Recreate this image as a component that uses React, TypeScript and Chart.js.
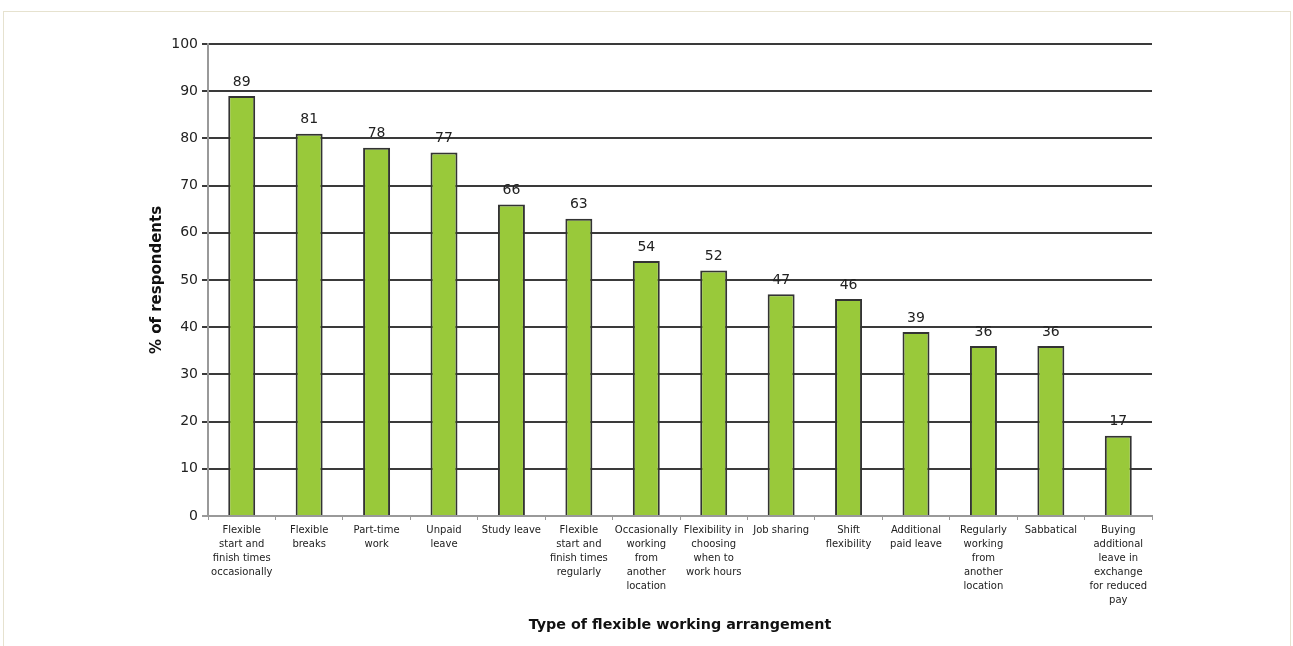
import React, { useEffect, useRef } from "react";
import { Chart, registerables } from "chart.js";

Chart.register(...registerables);

const categories: string[][] = [
  ["Flexible", "start and", "finish times", "occasionally"],
  ["Flexible", "breaks"],
  ["Part-time", "work"],
  ["Unpaid", "leave"],
  ["Study leave"],
  ["Flexible", "start and", "finish times", "regularly"],
  ["Occasionally", "working", "from", "another", "location"],
  ["Flexibility in", "choosing", "when to", "work hours"],
  ["Job sharing"],
  ["Shift", "flexibility"],
  ["Additional", "paid leave"],
  ["Regularly", "working", "from", "another", "location"],
  ["Sabbatical"],
  ["Buying", "additional", "leave in", "exchange", "for reduced", "pay"],
];

const values: number[] = [89, 81, 78, 77, 66, 63, 54, 52, 47, 46, 39, 36, 36, 17];

const yTicks: number[] = [0, 10, 20, 30, 40, 50, 60, 70, 80, 90, 100];

const FONT = "'DejaVu Sans', Verdana, sans-serif";

const valueLabels = {
  id: "valueLabels",
  afterDatasetsDraw(chart: any) {
    const ctx = chart.ctx;
    const meta = chart.getDatasetMeta(0);
    ctx.save();
    ctx.font = `14px ${FONT}`;
    ctx.fillStyle = "#222";
    ctx.textAlign = "center";
    ctx.textBaseline = "middle";
    meta.data.forEach((bar: any, i: number) => {
      ctx.fillText(String(values[i]), bar.x, bar.y - 14);
    });
    ctx.restore();
  },
};

export default function App() {
  const ref = useRef<HTMLCanvasElement>(null);
  useEffect(() => {
    document.body.style.overflow = "hidden";
    const chart = new Chart(ref.current!, {
      type: "bar",
      data: {
        labels: categories,
        datasets: [
          {
            data: values,
            backgroundColor: "#99C93A",
            borderColor: "#333",
            borderWidth: 2,
            categoryPercentage: 1,
            barPercentage: 0.4,
          },
        ],
      },
      options: {
        responsive: false,
        animation: false,
        devicePixelRatio: 1,
        layout: { padding: { left: 0, right: 141, top: 44, bottom: 0 } },
        plugins: {
          legend: { display: false },
          tooltip: { enabled: false },
        },
        scales: {
          x: {
            offset: true,
            afterFit: (s: any) => {
              s.height = 130;
            },
            grid: {
              offset: true,
              drawOnChartArea: false,
              drawTicks: true,
              tickLength: 4,
              color: "#999",
            },
            border: { color: "#999", width: 2 },
            ticks: {
              autoSkip: false,
              maxRotation: 0,
              minRotation: 0,
              padding: 3,
              color: "#222",
              font: { family: FONT, size: 10, lineHeight: 1.4 },
            },
            title: {
              display: true,
              text: "Type of flexible working arrangement",
              color: "#111",
              font: { family: FONT, size: 14.3, weight: "bold" },
              padding: { top: 0, bottom: 12 },
            },
          },
          y: {
            min: 0,
            max: 100,
            afterFit: (s: any) => {
              s.width = 208;
            },
            afterBuildTicks: (s: any) => {
              s.ticks = yTicks.map((v) => ({ value: v }));
            },
            grid: {
              color: (c: any) => (c.tick && c.tick.value === 0 ? "#999" : "#3a3a3a"),
              lineWidth: 2,
              tickLength: 6,
            },
            border: { color: "#999", width: 2 },
            ticks: {
              padding: 4,
              color: "#222",
              font: { family: FONT, size: 14 },
            },
            title: {
              display: true,
              text: "% of respondents",
              color: "#111",
              font: { family: FONT, size: 15, weight: "bold" },
              padding: { top: 148, bottom: 0 },
            },
          },
        },
      },
      plugins: [valueLabels],
    });
    return () => chart.destroy();
  }, []);
  return (
    <div style={{ position: "absolute", left: 0, top: 0, width: 1293, height: 646, background: "#fff" }}>
      <div
        style={{
          position: "absolute",
          left: 3,
          top: 11,
          width: 1286,
          height: 640,
          borderTop: "1px solid #e6e2cf",
          borderLeft: "1px solid #e6e2cf",
          borderRight: "1px solid #e6e2cf",
        }}
      />
      <canvas ref={ref} width={1293} height={646} style={{ position: "absolute", left: 0, top: 0 }} />
    </div>
  );
}
